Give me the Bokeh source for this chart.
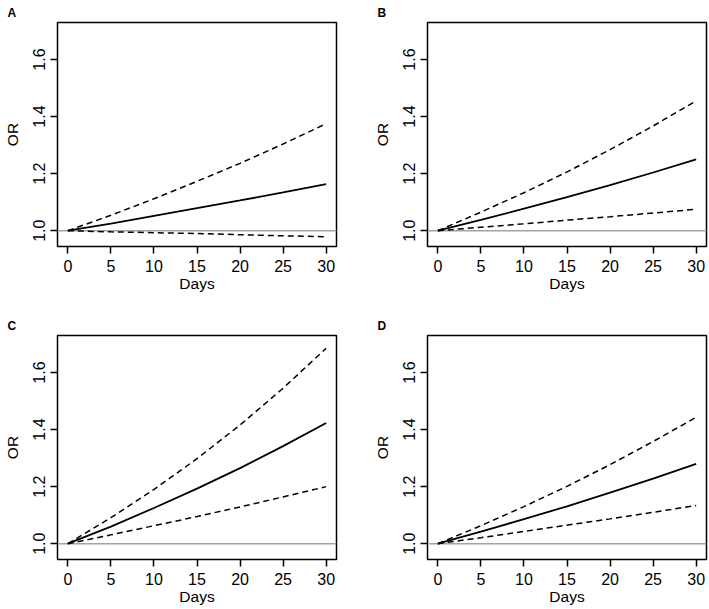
from bokeh.plotting import figure
from bokeh.layouts import column, row
from bokeh.models import Span, FixedTicker, PrintfTickFormatter
from bokeh.embed import file_html
from bokeh.resources import INLINE

# ---------------- data ----------------
days = [0, 5, 10, 15, 20, 25, 30]
x_ticks = [0, 5, 10, 15, 20, 25, 30]
y_ticks = [1.0, 1.2, 1.4, 1.6]
panel_letters = ["A", "B", "C", "D"]

a_est = [1.0, 1.025, 1.052, 1.079, 1.106, 1.134, 1.163]
a_low = [1.0, 0.996, 0.993, 0.990, 0.986, 0.982, 0.979]
a_up = [1.0, 1.054, 1.112, 1.173, 1.236, 1.304, 1.375]

b_est = [1.0, 1.038, 1.077, 1.118, 1.160, 1.204, 1.250]
b_low = [1.0, 1.012, 1.024, 1.037, 1.049, 1.062, 1.075]
b_up = [1.0, 1.065, 1.133, 1.206, 1.284, 1.367, 1.455]

c_est = [1.0, 1.060, 1.125, 1.193, 1.265, 1.342, 1.423]
c_low = [1.0, 1.031, 1.063, 1.095, 1.129, 1.164, 1.200]
c_up = [1.0, 1.091, 1.190, 1.298, 1.416, 1.545, 1.685]

d_est = [1.0, 1.042, 1.086, 1.131, 1.179, 1.228, 1.280]
d_low = [1.0, 1.021, 1.043, 1.065, 1.087, 1.110, 1.134]
d_up = [1.0, 1.063, 1.130, 1.201, 1.277, 1.358, 1.443]

# ---------------- layout / style ----------------
X0, X1 = -1.2, 31.2
Y0, Y1 = 0.9446, 1.7297
FONT = "Liberation Sans"


def make_panel(letter, est, low, up, width, height, mbl, mbr, mbt, mbb):
    p = figure(width=width, height=height, x_range=(X0, X1), y_range=(Y0, Y1),
               output_backend="svg", toolbar_location=None,
               min_border_left=mbl, min_border_right=mbr,
               min_border_top=mbt, min_border_bottom=mbb)
    p.title.text = letter
    p.title.align = "left"
    p.title.offset = -50
    p.title.standoff = 6
    p.title.text_font = FONT
    p.title.text_font_style = "bold"
    p.title.text_font_size = "12px"
    p.title.text_color = "black"

    p.background_fill_color = "white"
    p.border_fill_color = "white"
    p.outline_line_color = "black"
    p.outline_line_width = 1.5
    p.grid.visible = False

    p.xaxis.ticker = FixedTicker(ticks=x_ticks)
    p.yaxis.ticker = FixedTicker(ticks=y_ticks)
    p.yaxis.formatter = PrintfTickFormatter(format="%.1f")
    p.yaxis.major_label_orientation = "vertical"

    for ax in (p.xaxis[0], p.yaxis[0]):
        ax.axis_line_color = None
        ax.major_tick_out = 7
        ax.major_tick_in = 0
        ax.major_tick_line_color = "black"
        ax.major_tick_line_width = 1.5
        ax.minor_tick_line_color = None
        ax.major_label_text_font = FONT
        ax.major_label_text_font_size = "16px"
        ax.major_label_text_color = "black"
        ax.axis_label_text_font = FONT
        ax.axis_label_text_font_size = "15.5px"
        ax.axis_label_text_font_style = "normal"
        ax.axis_label_text_color = "black"

    p.xaxis.axis_label = "Days"
    p.yaxis.axis_label = "OR"
    p.xaxis.major_label_standoff = 6
    p.xaxis.axis_label_standoff = 0
    p.yaxis.major_label_standoff = 5
    p.yaxis.axis_label_standoff = 10

    p.add_layout(Span(location=1.0, dimension="width", line_color="#a3a3a3",
                      line_width=1.5, level="underlay"))

    p.line(days, est, line_color="black", line_width=1.8)
    p.line(days, up, line_color="black", line_width=1.5, line_dash="6 4")
    p.line(days, low, line_color="black", line_width=1.5, line_dash="6 4")
    return p


pA = make_panel(panel_letters[0], a_est, a_low, a_up, 370, 313, 56, 34, 22, 67)
pB = make_panel(panel_letters[1], b_est, b_low, b_up, 338, 313, 56, 2, 22, 67)
pC = make_panel(panel_letters[2], c_est, c_low, c_up, 370, 296, 56, 34, 22, 50)
pD = make_panel(panel_letters[3], d_est, d_low, d_up, 338, 296, 56, 2, 22, 50)

layout = column(row(pA, pB), row(pC, pD))

open("out.html", "w").write(file_html(layout, INLINE))
